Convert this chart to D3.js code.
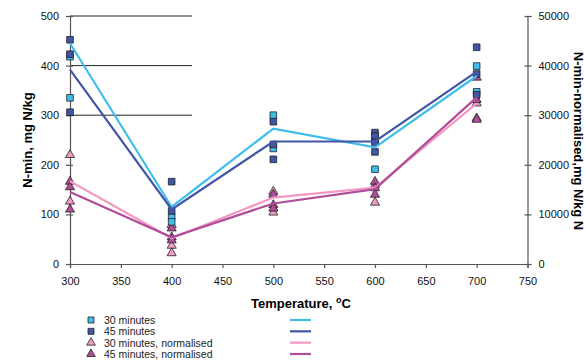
<!DOCTYPE html>
<html>
<head>
<meta charset="utf-8">
<script src="https://cdn.jsdelivr.net/npm/d3@7"></script>
<style>
  body { margin: 0; background: #fff; }
  svg { font-family: Arial, "Liberation Sans", sans-serif; }
</style>
</head>
<body>
<div id="chart"></div>
<script>
// temperatures where lines are drawn
const temps = [300, 400, 500, 600, 700];

// line values (mg N/kg) - left axis
const line30 = [445, 115, 273, 235, 379];
const line45 = [392, 110, 247, 247, 388];
// normalised line values - right axis
const line30n = [16700, 5200, 13400, 15400, 32400];
const line45n = [14500, 5400, 12200, 15100, 33600];

// individual measurements, [temperature, value]
const pts30 = [[300, 418], [300, 335], [400, 95], [400, 85], [500, 300], [500, 233], [600, 250], [600, 191], [700, 399], [700, 347]];
const pts45 = [[300, 452], [300, 423], [300, 306], [400, 166], [400, 107], [500, 287], [500, 241], [500, 211], [600, 265], [600, 258], [600, 245], [600, 226], [700, 437], [700, 383], [700, 341]];
const pts30n = [[300, 22000], [300, 12600], [400, 7900], [400, 3700], [400, 2200], [500, 14600], [500, 10400], [600, 12400], [600, 15900], [700, 29400], [700, 32400]];
const pts45n = [[300, 16600], [300, 15500], [300, 11000], [400, 7200], [400, 5400], [400, 4800], [500, 14000], [500, 11900], [500, 11200], [600, 16600], [600, 15300], [600, 14000], [700, 37600], [700, 33100], [700, 29100]];

const xTicks = [300, 350, 400, 450, 500, 550, 600, 650, 700, 750];
const yTicks = [0, 100, 200, 300, 400, 500];
const y2Ticks = [0, 10000, 20000, 30000, 40000, 50000];
const gridVals = [300, 400, 500];
const gridEnd = 420; // gridlines stop part way across

const legendLabels = ['30 minutes', '45 minutes', '30 minutes, normalised', '45 minutes, normalised'];

const colors = { c30: '#3dbdeb', c45: '#4157a6', c30n: '#f39ac4', c45n: '#b14e99' };

const width = 585, height = 363;
const svg = d3.select('#chart').append('svg')
  .attr('width', width)
  .attr('height', height);

const x = d3.scaleLinear().domain([300, 750]).range([70, 527.5]);
const y = d3.scaleLinear().domain([0, 500]).range([264, 16]);
const y2 = d3.scaleLinear().domain([0, 50000]).range([264, 16]);

// partial gridlines
svg.selectAll('line.grid')
  .data(gridVals)
  .enter()
  .append('line')
  .attr('class', 'grid')
  .attr('x1', x(300))
  .attr('x2', x(gridEnd))
  .attr('y1', d => y(d))
  .attr('y2', d => y(d))
  .attr('stroke', '#222')
  .attr('stroke-width', 1);

// axes
const axisColor = '#555';
const xAxis = svg.append('g')
  .attr('transform', `translate(0,${y(0)})`)
  .call(d3.axisBottom(x).tickValues(xTicks).tickSize(4).tickPadding(9).tickFormat(d3.format('d')));
const yAxis = svg.append('g')
  .attr('transform', `translate(${x(300)},0)`)
  .call(d3.axisLeft(y).tickValues(yTicks).tickSize(4).tickPadding(7).tickFormat(d3.format('d')));
const y2Axis = svg.append('g')
  .attr('transform', `translate(${x(750)},0)`)
  .call(d3.axisRight(y2).tickValues(y2Ticks).tickSize(4).tickPadding(7).tickFormat(d3.format('d')));

[xAxis, yAxis, y2Axis].forEach(g => {
  g.select('.domain').attr('stroke', axisColor).attr('stroke-width', 1.2);
  g.selectAll('.tick line').attr('stroke', axisColor).attr('stroke-width', 1.2);
  g.selectAll('.tick text').attr('fill', '#111').style('font-size', '11px').style('font-family', 'Arial, "Liberation Sans", sans-serif');
});
// ticks cross the vertical axes
yAxis.selectAll('.tick line').attr('x1', 3);
y2Axis.selectAll('.tick line').attr('x1', -3);

// lines
const lineL = d3.line().x((d, i) => x(temps[i])).y(d => y(d));
const lineR = d3.line().x((d, i) => x(temps[i])).y(d => y2(d));

const lines = [
  { vals: line30, gen: lineL, color: colors.c30 },
  { vals: line45, gen: lineL, color: colors.c45 },
  { vals: line30n, gen: lineR, color: colors.c30n },
  { vals: line45n, gen: lineR, color: colors.c45n }
];

// points first, then lines on top like the original
const sq = d3.symbol().type(d3.symbolSquare).size(44);
const tri = d3.symbol().type(d3.symbolTriangle).size(36);

function drawPoints(data, yScale, sym, fill) {
  svg.append('g').selectAll('path')
    .data(data)
    .enter()
    .append('path')
    .attr('d', sym)
    .attr('transform', d => `translate(${x(d[0])},${yScale(d[1])})`)
    .attr('fill', fill)
    .attr('stroke', '#222')
    .attr('stroke-width', 0.8);
}

drawPoints(pts30n, y2, tri, colors.c30n);
drawPoints(pts45n, y2, tri, colors.c45n);
drawPoints(pts30, y, sq, colors.c30);
drawPoints(pts45, y, sq, colors.c45);

svg.append('g').selectAll('path')
  .data(lines)
  .enter()
  .append('path')
  .attr('d', d => d.gen(d.vals))
  .attr('fill', 'none')
  .attr('stroke', d => d.color)
  .attr('stroke-width', 2.2);

// axis titles
const xt = svg.append('text')
  .attr('x', 301)
  .attr('y', 308)
  .attr('text-anchor', 'middle')
  .style('font-size', '13px')
  .style('font-weight', 'bold')
  .text('Temperature, ');
xt.append('tspan').attr('dy', -5).style('font-size', '9px').text('o');
xt.append('tspan').attr('dy', 5).text('C');

svg.append('text')
  .attr('transform', 'translate(32,140) rotate(-90)')
  .attr('text-anchor', 'middle')
  .style('font-size', '13px')
  .style('font-weight', 'bold')
  .text('N-min, mg N/kg');

svg.append('text')
  .attr('transform', 'translate(574,141) rotate(90)')
  .attr('text-anchor', 'middle')
  .style('font-size', '13px')
  .style('font-weight', 'bold')
  .text('N-min-normalised,mg N/kg N');

// legend
const legendRows = [
  { sym: sq, fill: colors.c30, line: colors.c30 },
  { sym: sq, fill: colors.c45, line: colors.c45 },
  { sym: tri, fill: colors.c30n, line: colors.c30n },
  { sym: tri, fill: colors.c45n, line: colors.c45n }
];
const legend = svg.append('g');
const rowY = d3.scalePoint().domain(d3.range(4)).range([320, 354]);
legendRows.forEach((r, i) => {
  const yy = rowY(i);
  legend.append('path')
    .attr('d', r.sym === sq ? d3.symbol().type(d3.symbolSquare).size(36)() : d3.symbol().type(d3.symbolTriangle).size(32)())
    .attr('transform', `translate(91,${yy})`)
    .attr('fill', r.fill)
    .attr('stroke', '#222')
    .attr('stroke-width', 0.8);
  legend.append('text')
    .attr('x', 104)
    .attr('y', yy + 4)
    .style('font-size', '10.5px')
    .attr('fill', '#222')
    .text(legendLabels[i]);
  legend.append('line')
    .attr('x1', 290).attr('x2', 311)
    .attr('y1', yy).attr('y2', yy)
    .attr('stroke', r.line)
    .attr('stroke-width', 2.2);
});
</script>
</body>
</html>
